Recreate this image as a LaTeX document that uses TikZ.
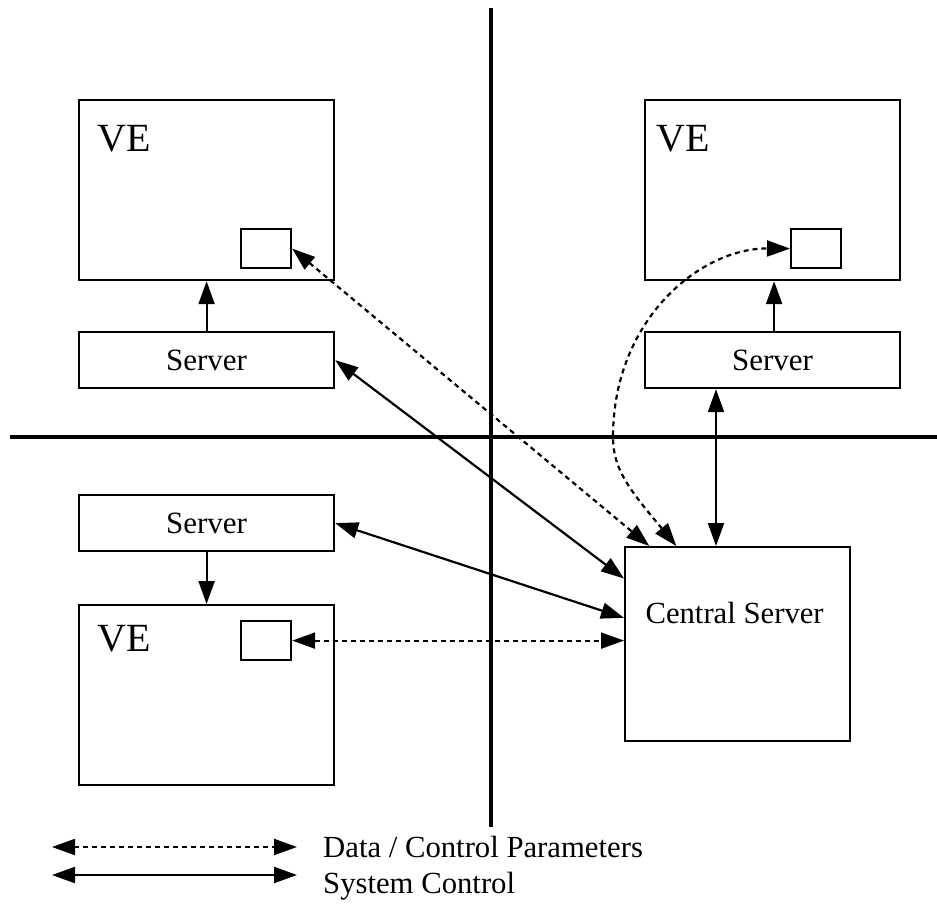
\documentclass[tikz,border=0pt]{standalone}
\usepackage{fontspec}
\setmainfont{Liberation Serif}
\usetikzlibrary{arrows.meta,calc}

\begin{document}
\begin{tikzpicture}[x=1pt,y=-1pt,
  box/.style={draw,line width=2.2pt,inner sep=0pt,anchor=north west,
    font=\fontsize{31}{36}\selectfont},
  small/.style={box,minimum width=50pt,minimum height=39pt},
  vebox/.style={box,minimum width=255pt,minimum height=180pt},
  srvbox/.style={box,minimum width=255pt,minimum height=56pt},
  velabel/.style={anchor=base west,inner sep=0pt,font=\fontsize{40}{44}\selectfont},
  txt/.style={inner sep=0pt,font=\fontsize{30.7}{36}\selectfont},
  tip/.style={-{Triangle[length=23pt,width=16pt]}},
  twotip/.style={{Triangle[length=23pt,width=16pt]}-{Triangle[length=23pt,width=16pt]}},
  solidarrow/.style={line width=2.2pt},
  dasharrow/.style={line width=2.2pt,dash pattern=on 5pt off 4pt},
  axis/.style={line width=4pt}]

\useasboundingbox (0,0) rectangle (937,903);

% quadrant axes
\coordinate (vtop) at (491,8);
\coordinate (vbot) at (491,827);
\coordinate (hleft) at (10,437);
\coordinate (hright) at (937,437);
\draw[axis] (vtop) -- (vbot);
\draw[axis] (hleft) -- (hright);

% top-left site
\node[vebox] (tlve) at (78,99) {};
\node[velabel] (tlvelabel) at (97,151) {VE};
\node[small] (tlsmall) at (240,228) {};
\node[srvbox] (tlserver) at (78,331) {Server};

% top-right site
\node[vebox] (trve) at (644,99) {};
\node[velabel] (trvelabel) at (656,151) {VE};
\node[small] (trsmall) at (790,228) {};
\node[srvbox] (trserver) at (644,331) {Server};

% bottom-left site
\node[srvbox] (blserver) at (78,494) {Server};
\node[vebox] (blve) at (78,604) {};
\node[velabel] (blvelabel) at (97,651) {VE};
\node[small] (blsmall) at (240,620) {};

% central server
\node[box,minimum width=225pt,minimum height=194pt] (central) at (624,546) {};
\node[txt] (centraltext) at ($(central.center)+(-3,-31)$) {Central Server};

% server to VE
\draw[solidarrow,tip] (tlserver.north) -- (tlve.south);
\draw[solidarrow,tip] ($(trserver.north)+(1.5,0)$) -- ($(trve.south)+(1.5,0)$);
\draw[solidarrow,tip] (blserver.south) -- (blve.north);

% system control links
\draw[solidarrow,twotip] (tlserver.east) -- (central.150.75);
\draw[solidarrow,twotip] (blserver.east) -- (central.167.5);
\coordinate (trlink) at ($(trserver.south west)+(72,0)$);
\draw[solidarrow,twotip] (trlink) -- (trlink |- central.north);

% data / control parameter links
\draw[dasharrow,twotip] (tlsmall.east) -- (central.132.7);
\draw[dasharrow,twotip] (blsmall.east) -- (blsmall.east -| central.west);
\draw[dasharrow,twotip] (central.122.8) .. controls (630,490) and (613,470) .. (613,437)
  .. controls (613,320) and (700,248) .. (trsmall.west);

% legend
\coordinate (l1a) at (52,847);
\coordinate (l1b) at (297,847);
\coordinate (l2a) at (52,875);
\coordinate (l2b) at (297,875);
\draw[dasharrow,twotip] (l1a) -- (l1b);
\draw[solidarrow,twotip] (l2a) -- (l2b);
\node[txt,anchor=base west] (legdata) at (323,857) {Data / Control Parameters};
\node[txt,anchor=base west] (legsys) at (323,893) {System Control};
\end{tikzpicture}
\end{document}
